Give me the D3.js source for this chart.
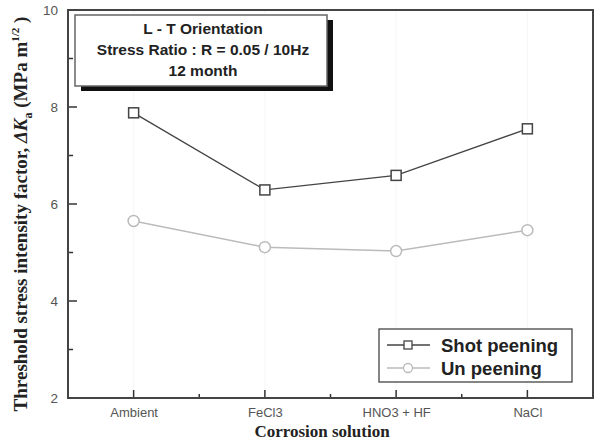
<!DOCTYPE html>
<html lang="en">
<head>
<meta charset="utf-8">
<title>Threshold stress intensity factor</title>
<script src="https://d3js.org/d3.v7.min.js"></script>
<style>
	body { margin: 0; background: #fff; }
	svg { display: block; }
</style>
</head>
<body>
<div id="chart"></div>
<script>
	// data
	var categories = ["Ambient", "FeCl3", "HNO3 + HF", "NaCl"];
	var shotPeening = [7.88, 6.29, 6.59, 7.55];
	var unPeening = [5.65, 5.11, 5.03, 5.46];
	var yTicks = [2, 4, 6, 8, 10];
	var yMinorTicks = [3, 5, 7, 9];
	var infoLines = ["L - T Orientation", "Stress Ratio : R = 0.05 / 10Hz", "12 month"];
	var seriesNames = ["Shot peening", "Un peening"];

	var W = 601, H = 444;
	var margin = {top: 10, right: 8, bottom: 46, left: 68};
	var width = W - margin.left - margin.right,
		height = H - margin.top - margin.bottom;

	var svg = d3.select("#chart").append("svg")
		.attr("width", W)
		.attr("height", H);

	var g = svg.append("g")
		.attr("transform", "translate(" + margin.left + "," + margin.top + ")");

	var x = d3.scalePoint()
		.domain(categories)
		.range([0, width])
		.padding(0.5);
	var y = d3.scaleLinear()
		.domain([2, 10])
		.range([height, 0]);

	// faint vertical guides at each category
	g.selectAll(".guide")
		.data(categories)
		.enter().append("line")
		.attr("x1", function(d) { return x(d); })
		.attr("x2", function(d) { return x(d); })
		.attr("y1", 0).attr("y2", height)
		.attr("stroke", "#f6f6f6")
		.attr("stroke-width", 1);

	// axis labels from d3 axes, tick marks drawn inward by hand
	var yAxis = g.append("g")
		.call(d3.axisLeft(y).tickValues(yTicks).tickSize(0).tickPadding(10).tickFormat(d3.format("d")));
	var xAxis = g.append("g")
		.attr("transform", "translate(0," + height + ")")
		.call(d3.axisBottom(x).tickSize(0).tickPadding(10));

	g.selectAll(".domain").remove();
	g.selectAll(".tick text")
		.attr("fill", "#555")
		.style("font-family", "Liberation Sans, Arial, sans-serif");
	yAxis.selectAll(".tick text").style("font-size", "13.5px");
	xAxis.selectAll(".tick text").style("font-size", "13px");

	var ticks = g.append("g").attr("stroke", "#333").attr("stroke-width", 1.5);
	ticks.selectAll(".ymaj").data(yTicks).enter().append("line")
		.attr("x1", 0).attr("x2", 9)
		.attr("y1", function(d) { return y(d); })
		.attr("y2", function(d) { return y(d); });
	ticks.selectAll(".ymin").data(yMinorTicks).enter().append("line")
		.attr("x1", 0).attr("x2", 5)
		.attr("y1", function(d) { return y(d); })
		.attr("y2", function(d) { return y(d); });
	ticks.selectAll(".xmaj").data(categories).enter().append("line")
		.attr("x1", function(d) { return x(d); })
		.attr("x2", function(d) { return x(d); })
		.attr("y1", height).attr("y2", height - 8);
	var step = x.step();
	ticks.selectAll(".xmin").data(categories.slice(0, -1)).enter().append("line")
		.attr("x1", function(d) { return x(d) + step / 2; })
		.attr("x2", function(d) { return x(d) + step / 2; })
		.attr("y1", height).attr("y2", height - 4);

	// frame
	g.append("rect")
		.attr("width", width).attr("height", height)
		.attr("fill", "none")
		.attr("stroke", "#444")
		.attr("stroke-width", 2);

	// series
	var line = d3.line()
		.x(function(d, i) { return x(categories[i]); })
		.y(function(d) { return y(d); });

	g.append("path")
		.datum(unPeening)
		.attr("d", line)
		.attr("fill", "none")
		.attr("stroke", "#bbb")
		.attr("stroke-width", 1.5);
	g.selectAll(".circ")
		.data(unPeening)
		.enter().append("circle")
		.attr("cx", function(d, i) { return x(categories[i]); })
		.attr("cy", function(d) { return y(d); })
		.attr("r", 5.5)
		.attr("fill", "#fff")
		.attr("stroke", "#bbb")
		.attr("stroke-width", 1.5);

	g.append("path")
		.datum(shotPeening)
		.attr("d", line)
		.attr("fill", "none")
		.attr("stroke", "#444")
		.attr("stroke-width", 1.3);
	g.selectAll(".sq")
		.data(shotPeening)
		.enter().append("rect")
		.attr("x", function(d, i) { return x(categories[i]) - 5; })
		.attr("y", function(d) { return y(d) - 5; })
		.attr("width", 10).attr("height", 10)
		.attr("fill", "#fff")
		.attr("stroke", "#444")
		.attr("stroke-width", 1.5);

	// info box with shadow
	var info = svg.append("g").attr("transform", "translate(75,15)");
	info.append("rect")
		.attr("x", 6).attr("y", 5)
		.attr("width", 252).attr("height", 71)
		.attr("fill", "#111");
	info.append("rect")
		.attr("width", 252).attr("height", 71)
		.attr("fill", "#fff")
		.attr("stroke", "#666")
		.attr("stroke-width", 1.5);
	info.selectAll("text")
		.data(infoLines)
		.enter().append("text")
		.attr("x", 128)
		.attr("y", function(d, i) { return 19 + i * 21; })
		.attr("text-anchor", "middle")
		.style("font-family", "Liberation Sans, Arial, sans-serif")
		.style("font-weight", "bold")
		.style("font-size", "15.5px")
		.attr("fill", "#222")
		.text(function(d) { return d; });

	// legend
	var legend = svg.append("g").attr("transform", "translate(379,329)");
	legend.append("rect")
		.attr("width", 193).attr("height", 53)
		.attr("fill", "#fff")
		.attr("stroke", "#444")
		.attr("stroke-width", 1.3);
	var colors = ["#444", "#bbb"];
	seriesNames.forEach(function(name, i) {
		var row = legend.append("g").attr("transform", "translate(0," + (16 + i * 23) + ")");
		row.append("line")
			.attr("x1", 8).attr("x2", 51)
			.attr("stroke", colors[i]).attr("stroke-width", 1.3);
		if (i === 0) {
			row.append("rect")
				.attr("x", 25).attr("y", -4).attr("width", 8).attr("height", 8)
				.attr("fill", "#fff").attr("stroke", colors[i]).attr("stroke-width", 1.3);
		} else {
			row.append("circle")
				.attr("cx", 29).attr("r", 4.5)
				.attr("fill", "#fff").attr("stroke", colors[i]).attr("stroke-width", 1.3);
		}
		row.append("text")
			.attr("x", 62).attr("y", 7)
			.style("font-family", "Liberation Sans, Arial, sans-serif")
			.style("font-weight", "bold")
			.style("font-size", "18.5px")
			.attr("fill", "#222")
			.text(name);
	});

	// axis titles
	var ylab = svg.append("text")
		.attr("transform", "translate(27," + (margin.top + height / 2 + 10) + ") rotate(-90)")
		.attr("text-anchor", "middle")
		.style("font-family", "Liberation Serif, Times New Roman, serif")
		.style("font-weight", "bold")
		.style("font-size", "19px")
		.attr("fill", "#222");
	ylab.append("tspan").text("Threshold stress intensity factor,  ");
	ylab.append("tspan").style("font-style", "italic").text("ΔK");
	ylab.append("tspan").attr("dy", 5).style("font-size", "12px").text("a");
	ylab.append("tspan").attr("dy", -5).text(" (MPa m");
	ylab.append("tspan").attr("dy", -8).style("font-size", "11px").text("1/2");
	ylab.append("tspan").attr("dy", 8).text(" )");

	svg.append("text")
		.attr("x", 322).attr("y", 437)
		.attr("text-anchor", "middle")
		.style("font-family", "Liberation Serif, Times New Roman, serif")
		.style("font-weight", "bold")
		.style("font-size", "17px")
		.attr("fill", "#222")
		.text("Corrosion solution");
</script>
</body>
</html>
